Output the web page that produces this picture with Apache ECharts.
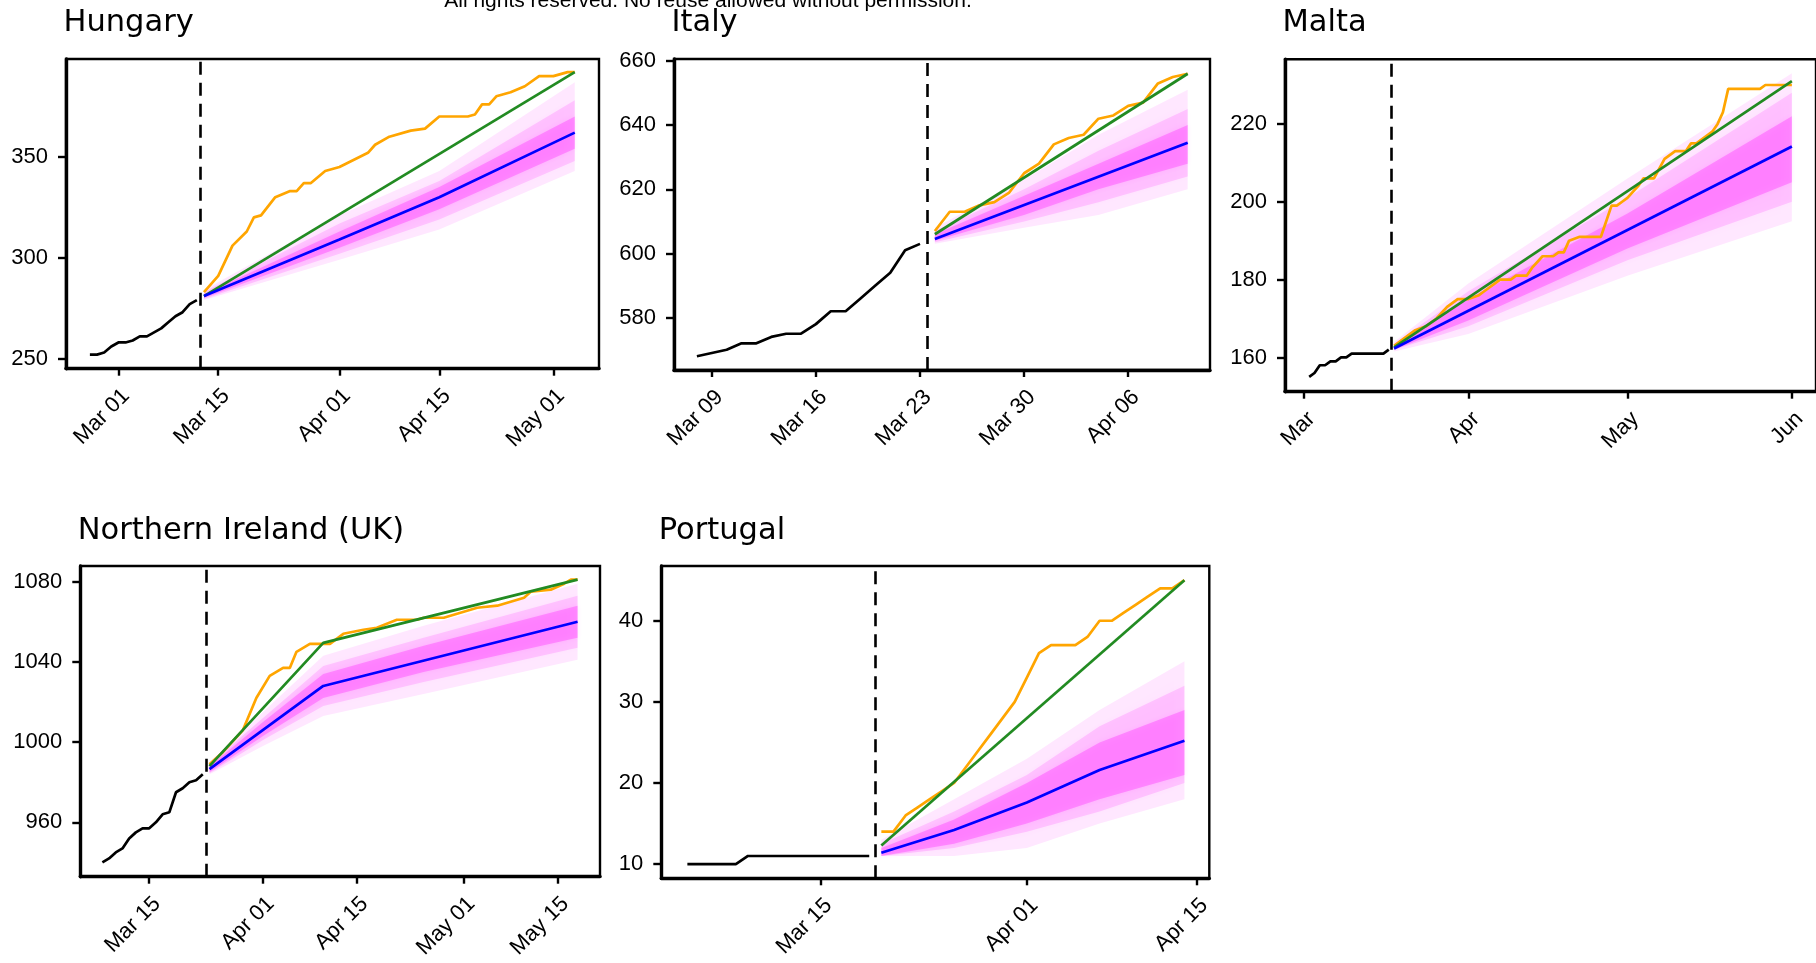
<!DOCTYPE html>
<html><head><meta charset="utf-8">
<script src="https://cdn.jsdelivr.net/npm/echarts@6/dist/echarts.min.js"></script>
<style>html,body{margin:0;padding:0;background:#fff}#c{width:1816px;height:963px}</style>
</head><body><div id="c"></div>
<script>
// ================= DATA =================
// Hungary
const huTicks = ['03-01','03-15','04-01','04-15','05-01'];
const huTickLabels = ['Mar 01','Mar 15','Apr 01','Apr 15','May 01'];
const huYTicks = [250,300,350];
const huObsStart = '02-26';
const huObs = [252,252,253,256,258,258,259,261,261,263,265,268,271,273,277,279];
const huSplit = '03-12';
const huActual = [['03-13',283],['03-15',291],['03-17',306],['03-19',313],['03-20',320],['03-21',321],['03-23',330],['03-25',333],['03-26',333],['03-27',337],['03-28',337],['03-30',343],['04-01',345],['04-05',352],['04-06',356],['04-08',360],['04-11',363],['04-13',364],['04-15',370],['04-19',370],['04-20',371],['04-21',376],['04-22',376],['04-23',380],['04-25',382],['04-27',385],['04-29',390],['05-01',390],['05-03',392],['05-04',392]];
const huLinear = [['03-13',281],['05-04',392]];
const huMean = [['03-13',281],['04-01',309],['04-15',330],['05-04',362]];
const huBandDates = ['03-13','04-01','04-15','05-04'];
const huOuterLo = [279,299,314,343], huOuterHi = [284,321,343,387];
const huMidLo = [279.5,302,319,348], huMidHi = [283,317,338,378];
const huInnerLo = [280,305,324,354], huInnerHi = [282,313,335,370];

// Italy
const itTicks = ['03-09','03-16','03-23','03-30','04-06'];
const itTickLabels = ['Mar 09','Mar 16','Mar 23','Mar 30','Apr 06'];
const itYTicks = [580,600,620,640,660];
const itObsStart = '03-08';
const itObs = [568,569,570,572,572,574,575,575,578,582,582,586,590,594,601,603];
const itSplit = '03-23';
const itActualStart = '03-24';
const itActualVals = [607,613,613,615,616,619,625,628,634,636,637,642,643,646,647,653,655,656];
const itLinear = [['03-24',606],['04-10',656]];
const itMean = [['03-24',604.5],['04-10',634.5]];
const itBandDates = ['03-24','03-30','04-04','04-10'];
const itOuterLo = [603,608,612,620], itOuterHi = [608,623,637,651];
const itMidLo = [603.5,610,616,624], itMidHi = [607,620,632,645];
const itInnerLo = [604,612,620,628], itInnerHi = [606,618,628,640];

// Malta
const mtTicks = ['03-01','04-01','05-01','06-01'];
const mtTickLabels = ['Mar','Apr','May','Jun'];
const mtYTicks = [160,180,200,220];
const mtObsStart = '03-02';
const mtObs = [155,156,158,158,159,159,160,160,161,161,161,161,161,161,161,162];
const mtSplit = '03-17';
const mtActual = [['03-18',163],['03-22',167],['03-24',168],['03-26',170],['03-28',173],['03-30',175],['04-01',175],['04-03',176],['04-04',177],['04-07',180],['04-09',180],['04-10',181],['04-12',181],['04-13',183],['04-15',186],['04-17',186],['04-18',187],['04-19',187],['04-20',190],['04-22',191],['04-26',191],['04-28',199],['04-29',199],['04-30',200],['05-01',201],['05-03',204],['05-04',206],['05-06',206],['05-08',211],['05-10',213],['05-12',213],['05-13',215],['05-14',215],['05-17',218],['05-18',220],['05-19',223],['05-20',229],['05-26',229],['05-27',230],['06-01',230]];
const mtLinear = [['03-18',162.6],['06-01',231]];
const mtMean = [['03-18',162.3],['06-01',214.2]];
const mtBandDates = ['03-18','04-01','05-01','06-01'];
const mtOuterLo = [161.5,166,181,195], mtOuterHi = [164,179,206,233];
const mtMidLo = [162,168,185,200], mtMidHi = [163.5,177,201,228];
const mtInnerLo = [162,169.5,188,205], mtInnerHi = [163,175,197,222];

// Northern Ireland (UK)
const niTicks = ['03-15','04-01','04-15','05-01','05-15'];
const niTickLabels = ['Mar 15','Apr 01','Apr 15','May 01','May 15'];
const niYTicks = [960,1000,1040,1080];
const niObsStart = '03-08';
const niObs = [940,942,945,947,952,955,957,957,960,964,965,975,977,980,981,984];
const niSplit = '03-23';
const niActual = [['03-24',989],['03-26',995],['03-29',1006],['03-31',1022],['04-02',1033],['04-03',1035],['04-04',1037],['04-05',1037],['04-06',1045],['04-08',1049],['04-11',1049],['04-13',1054],['04-16',1056],['04-18',1057],['04-21',1061],['04-24',1061],['04-25',1062],['04-28',1062],['04-30',1064],['05-03',1067],['05-06',1068],['05-10',1072],['05-11',1075],['05-14',1076],['05-16',1079],['05-17',1081],['05-18',1081]];
const niLinear = [['03-24',988],['04-10',1049.5],['05-18',1081]];
const niMean = [['03-24',986.5],['04-10',1028],['05-18',1060]];
const niBandDates = ['03-24','04-01','04-10','04-25','05-18'];
const niOuterLo = [984,998,1013,1024,1041], niOuterHi = [990,1015,1043,1058,1079];
const niMidLo = [984.5,1001,1018,1030,1047], niMidHi = [989,1012,1038,1052,1073];
const niInnerLo = [985,1003,1022,1035,1052], niInnerHi = [988,1010,1034,1048,1068];

// Portugal
const ptTicks = ['03-15','04-01','04-15'];
const ptTickLabels = ['Mar 15','Apr 01','Apr 15'];
const ptYTicks = [10,20,30,40];
const ptObsStart = '03-04';
const ptObs = [10,10,10,10,10,11,11,11,11,11,11,11,11,11,11,11];
const ptSplit = '03-19';
const ptActualStart = '03-20';
const ptActualVals = [14,14,16,17,18,19,20,22,24,26,28,30,33,36,37,37,37,38,40,40,41,42,43,44,44,45];
const ptLinear = [['03-20',12.3],['04-14',45]];
const ptMean = [['03-20',11.4],['03-26',14.2],['04-01',17.6],['04-07',21.6],['04-14',25.2]];
const ptBandDates = ['03-20','03-26','04-01','04-07','04-14'];
const ptOuterLo = [11,11,12,15,18], ptOuterHi = [13,18,23,29,35];
const ptMidLo = [11,12,14,16.5,20], ptMidHi = [12.5,16.5,21,27,32];
const ptInnerLo = [11,12.5,15,18,21], ptInnerHi = [12,15.5,20,25,29];

const panelTitles = ['Hungary','Italy','Malta','Northern Ireland (UK)','Portugal'];
const watermark = 'All rights reserved. No reuse allowed without permission.';

// ================= HELPERS =================
const BASE = Date.UTC(2020,0,1);
function d(s){ const p = s.split('-').map(Number); return (Date.UTC(2020,p[0]-1,p[1]) - BASE)/864e5; }
function daily(start, vals){ const s = d(start); return vals.map((v,i)=>[s+i, v]); }
function pairs(arr){ return arr.map(p=>[d(p[0]), p[1]]); }

const FONT = '"Liberation Sans", Arial, Helvetica, sans-serif';
const TFONT = '"DejaVu Sans", sans-serif';

const panels = [
  {title: panelTitles[0], grid:{left:66, top:59, width:533, height:309.7},
   xr:[d('03-01')-7.35, d('03-01')+67.4], yr:[245,398.5],
   ticks:huTicks, tickLabels:huTickLabels, yTicks:huYTicks,
   obs:daily(huObsStart,huObs), split:d(huSplit)+0.5,
   actual:pairs(huActual), linear:pairs(huLinear), mean:pairs(huMean),
   band:{dates:huBandDates, ol:huOuterLo, oh:huOuterHi, ml:huMidLo, mh:huMidHi, il:huInnerLo, ih:huInnerHi}},
  {title: panelTitles[1], grid:{left:674, top:59, width:536, height:311},
   xr:[d('03-09')-2.54, d('04-06')+5.5], yr:[563.7,660.6],
   ticks:itTicks, tickLabels:itTickLabels, yTicks:itYTicks,
   obs:daily(itObsStart,itObs), split:d(itSplit)+0.5,
   actual:daily(itActualStart,itActualVals), linear:pairs(itLinear), mean:pairs(itMean),
   band:{dates:itBandDates, ol:itOuterLo, oh:itOuterHi, ml:itMidLo, mh:itMidHi, il:itInnerLo, ih:itInnerHi}},
  {title: panelTitles[2], grid:{left:1285, top:59.3, width:534, height:332.4},
   xr:[d('03-01')-3.56, d('06-01')+4.55], yr:[151.2,236.6],
   ticks:mtTicks, tickLabels:mtTickLabels, yTicks:mtYTicks,
   obs:daily(mtObsStart,mtObs), split:d(mtSplit)+0.5,
   actual:pairs(mtActual), linear:pairs(mtLinear), mean:pairs(mtMean),
   band:{dates:mtBandDates, ol:mtOuterLo, oh:mtOuterHi, ml:mtMidLo, mh:mtMidHi, il:mtInnerLo, ih:mtInnerHi}},
  {title: panelTitles[3], grid:{left:80.3, top:566, width:519.7, height:310.7},
   xr:[d('03-15')-10.3, d('03-15')+67.35], yr:[932.9,1087.8],
   ticks:niTicks, tickLabels:niTickLabels, yTicks:niYTicks,
   obs:daily(niObsStart,niObs), split:d(niSplit)+0.5,
   actual:pairs(niActual), linear:pairs(niLinear), mean:pairs(niMean),
   band:{dates:niBandDates, ol:niOuterLo, oh:niOuterHi, ml:niMidLo, mh:niMidHi, il:niInnerLo, ih:niInnerHi}},
  {title: panelTitles[4], grid:{left:661.3, top:566, width:548, height:312.3},
   xr:[d('03-15')-13.15, d('04-15')+1.05], yr:[8.25,46.75],
   ticks:ptTicks, tickLabels:ptTickLabels, yTicks:ptYTicks,
   obs:daily(ptObsStart,ptObs), split:d(ptSplit)+0.5,
   actual:daily(ptActualStart,ptActualVals), linear:pairs(ptLinear), mean:pairs(ptMean),
   band:{dates:ptBandDates, ol:ptOuterLo, oh:ptOuterHi, ml:ptMidLo, mh:ptMidHi, il:ptInnerLo, ih:ptInnerHi}}
];

const grids=[], xAxes=[], yAxes=[], series=[], titles=[];
function bandSeries(i, dates, lo, hi, color, blur){
  const xs = dates.map(d);
  return {type:'custom', coordinateSystem:'cartesian2d', xAxisIndex:i, yAxisIndex:i, silent:true, clip:true, z:1,
    data:[[xs[0], lo[0]]],
    renderItem:(params, api)=>{
      const pts=[];
      for(let k=0;k<xs.length;k++) pts.push(api.coord([xs[k], lo[k]]));
      for(let k=xs.length-1;k>=0;k--) pts.push(api.coord([xs[k], hi[k]]));
      return {type:'polygon', shape:{points:pts}, style:{fill:color, shadowBlur:blur, shadowColor:color}};
    }};
}
function lineSeries(i, data, color, z, extra){
  return Object.assign({type:'line', xAxisIndex:i, yAxisIndex:i, data:data, symbol:'none', showSymbol:false,
    lineStyle:{color:color, width:2.7}, itemStyle:{color:color}, z:z, silent:true, animation:false}, extra||{});
}

panels.forEach((p,i)=>{
  grids.push(Object.assign({show:true, borderColor:'#000', borderWidth:2.4, backgroundColor:'transparent', containLabel:false}, p.grid));
  const tv = p.ticks.map(d);
  const labMap = {}; tv.forEach((v,k)=>labMap[v]=p.tickLabels[k]);
  xAxes.push({type:'value', gridIndex:i, min:p.xr[0], max:p.xr[1],
    axisLine:{show:true, onZero:false, lineStyle:{color:'#000', width:3.4}},
    axisTick:{show:true, length:7, lineStyle:{color:'#000', width:2.4}, customValues:tv},
    axisLabel:{show:true, customValues:tv, rotate:45, margin:16, fontSize:22, color:'#000', fontFamily:FONT,
      verticalAlign:'top', align:'right',
      formatter:(v)=>labMap[Math.round(v)]||''},
    splitLine:{show:false}});
  yAxes.push({type:'value', gridIndex:i, min:p.yr[0], max:p.yr[1],
    axisLine:{show:true, onZero:false, lineStyle:{color:'#000', width:3.4}},
    axisTick:{show:true, length:8, lineStyle:{color:'#000', width:2.4}, customValues:p.yTicks},
    axisLabel:{show:true, customValues:p.yTicks, margin:18, fontSize:22, color:'#000', fontFamily:FONT,
      formatter:(v)=>String(Math.round(v))},
    splitLine:{show:false}});
  titles.push({text:p.title, left:p.grid.left-2.5, top:(i<3?7.9:515.3), padding:0,
    textStyle:{fontSize:30.5, fontWeight:'normal', color:'#000', fontFamily:TFONT}});
  const b = p.band;
  series.push(bandSeries(i, b.dates, b.ol, b.oh, 'rgba(255,0,255,0.09)', 8));
  series.push(bandSeries(i, b.dates, b.ml, b.mh, 'rgba(255,0,255,0.15)', 6));
  series.push(bandSeries(i, b.dates, b.il, b.ih, 'rgba(255,0,255,0.27)', 5));
  series.push(lineSeries(i, p.obs, '#000000', 5, {markLine:{silent:true, symbol:'none', animation:false,
    label:{show:false}, lineStyle:{color:'#000', width:2.6, type:[13,8]}, data:[{xAxis:p.split}]}}));
  series.push(lineSeries(i, p.actual, '#FFA500', 6));
  series.push(lineSeries(i, p.linear, '#228B22', 7));
  series.push(lineSeries(i, p.mean, '#0000FF', 8));
});

const chart = echarts.init(document.getElementById('c'), null, {renderer:'canvas'});
chart.setOption({
  animation:false,
  backgroundColor:'#fff',
  title:titles,
  grid:grids, xAxis:xAxes, yAxis:yAxes, series:series,
  graphic:[{type:'text', x:708, y:1.5, silent:true, z:100,
    style:{text:watermark, fill:'#000', font:'21px '+FONT, textAlign:'center', textVerticalAlign:'middle'}}]
});
</script></body></html>
